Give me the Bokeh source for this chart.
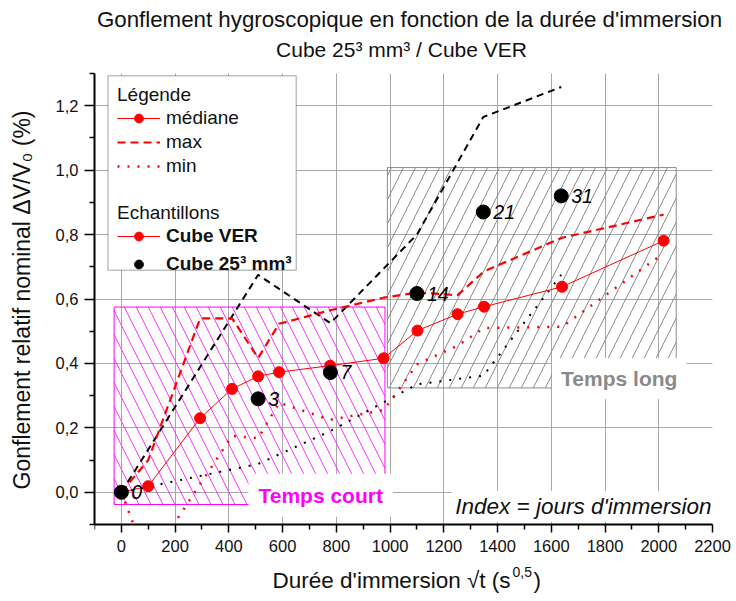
from bokeh.plotting import figure
from bokeh.models import (FixedTicker, CustomJSTickFormatter, Label, Legend,
                          LegendItem, BoxAnnotation)
from bokeh.embed import file_html
from bokeh.resources import INLINE
from bokeh.core.properties import value

# ---------------- data ----------------
# Cube VER : sqrt(t) in s^0.5
t_ver = [0, 100, 293, 412, 509, 587, 777, 976, 1102, 1251, 1350, 1640, 2018]
ver_median = [0, 0.019, 0.23, 0.321, 0.36, 0.373, 0.393, 0.416, 0.502, 0.553, 0.576, 0.638, 0.781]
ver_max = [0, 0.10, 0.54, 0.54, 0.417, 0.523, 0.565, 0.604, 0.62, 0.612, 0.686, 0.79, 0.862]
ver_min = [0, -0.22, 0.025, 0.175, 0.168, 0.278, 0.225, 0.255, 0.398, 0.455, 0.51, 0.514, 0.742]

# Cube 25^3 mm^3
t_c25 = [0, 509, 778, 1100, 1347, 1637]
c25_value = [0, 0.29, 0.372, 0.617, 0.870, 0.920]
c25_max = [0, 0.675, 0.525, 0.80, 1.165, 1.258]
c25_min = [0, 0.088, 0.19, 0.335, 0.362, 0.675]
c25_days = ["0", "3", "7", "14", "21", "31"]

# shaded regions
court_x = [-27, 981]
court_y = [-0.038, 0.575]
long_x = [990, 2065]
long_y = [0.324, 1.008]

x_ticks = [0, 200, 400, 600, 800, 1000, 1200, 1400, 1600, 1800, 2000, 2200]
x_minor = [-100, 100, 300, 500, 700, 900, 1100, 1300, 1500, 1700, 1900, 2100]
y_ticks = [0, 0.2, 0.4, 0.6, 0.8, 1.0, 1.2]
y_minor = [-0.1, 0.1, 0.3, 0.5, 0.7, 0.9, 1.1, 1.3]
X_MIN, X_MAX = -100, 2200
Y_MIN, Y_MAX = -0.1, 1.3

TITLE1 = "Gonflement hygroscopique en fonction de la durée d'immersion"
TITLE2 = "Cube 25³ mm³ / Cube VER"

FONT = "Liberation Sans"
RED = "#ff0000"

# ---------------- layout ----------------
# The drawing frame fills the canvas; the axes band occupies a fixed pixel box
# inside it, titles and the x-axis title are drawn as labels around it.
W, H = 734, 599
AX_LEFT, AX_RIGHT, AX_TOP, AX_BOTTOM = 94, 712, 73, 524   # axes band in canvas px
EDGE = 2
px_x = (AX_RIGHT - AX_LEFT) / (X_MAX - X_MIN)
px_y = (AX_BOTTOM - AX_TOP) / (Y_MAX - Y_MIN)
x_hi = X_MAX + (W - EDGE - AX_RIGHT) / px_x
y_hi = Y_MAX + (AX_TOP - EDGE) / px_y
y_lo = Y_MIN - (H - EDGE - AX_BOTTOM) / px_y


def sx(px):   # canvas pixel -> data x (for annotation placement)
    return X_MIN + (px - AX_LEFT) / px_x


def sy(py):   # canvas pixel -> data y
    return Y_MAX + (AX_TOP - py) / px_y


p = figure(width=W, height=H, x_range=(X_MIN, x_hi), y_range=(y_lo, y_hi),
           output_backend="svg", toolbar_location=None,
           min_border_left=AX_LEFT, min_border_right=EDGE,
           min_border_top=EDGE, min_border_bottom=EDGE)
p.outline_line_color = None
p.background_fill_color = "white"
p.title.visible = False
p.title.standoff = 0

# axes
for ax in (p.xaxis[0], p.yaxis[0]):
    ax.axis_line_width = 2
    ax.axis_line_color = "black"
    ax.major_tick_line_color = "black"
    ax.minor_tick_line_color = "black"
    ax.major_tick_line_width = 1.5
    ax.minor_tick_line_width = 1.5
    ax.major_tick_in = 0
    ax.minor_tick_in = 0
    ax.major_label_text_font = FONT
    ax.major_label_text_font_size = "16.5px"
    ax.major_label_text_color = "#111111"

p.xaxis.fixed_location = Y_MIN
p.xaxis.bounds = (X_MIN, X_MAX)
p.xaxis.ticker = FixedTicker(ticks=x_ticks, minor_ticks=x_minor)
p.xaxis.major_tick_out = 8
p.xaxis.minor_tick_out = 5
p.xaxis.major_label_standoff = 7

p.yaxis.bounds = (Y_MIN, Y_MAX)
p.yaxis.ticker = FixedTicker(ticks=y_ticks, minor_ticks=y_minor)
p.yaxis.formatter = CustomJSTickFormatter(code="return tick.toFixed(1).replace('.', ',');")
p.yaxis.major_tick_out = 10
p.yaxis.minor_tick_out = 5
p.yaxis.major_label_standoff = 6
p.yaxis.axis_label = "Gonflement relatif nominal ΔV/V₀ (%)"
p.yaxis.axis_label_text_font = FONT
p.yaxis.axis_label_text_font_size = "23px"
p.yaxis.axis_label_text_font_style = "normal"
p.yaxis.axis_label_text_color = "#111111"
p.yaxis.axis_label_standoff = 18

p.xgrid.ticker = FixedTicker(ticks=x_ticks[:-1])
p.ygrid.ticker = FixedTicker(ticks=y_ticks)
p.grid.grid_line_color = "#a8a8a8"
p.grid.grid_line_width = 1

# hatched regions
p.quad(left=[court_x[0]], right=[court_x[1]], bottom=[court_y[0]], top=[court_y[1]],
       fill_alpha=0, line_color="#ff00ff", line_width=1,
       hatch_pattern="left_diagonal_line", hatch_color="#ff33ff", hatch_scale=24, hatch_weight=1)
p.quad(left=[long_x[0]], right=[long_x[1]], bottom=[long_y[0]], top=[long_y[1]],
       fill_alpha=0, line_color="#8c8c8c", line_width=1,
       hatch_pattern="right_diagonal_line", hatch_color="#8c8c8c", hatch_scale=24, hatch_weight=1)

# Cube 25 envelopes (black)
p.line(t_c25, c25_max, line_color="black", line_width=2, line_dash="7 5")
p.line(t_c25, c25_min, line_color="black", line_width=2, line_dash="2 8")

# Cube VER (red)
max_line = p.line(t_ver, ver_max, line_color=RED, line_width=2.2, line_dash="8 5")
min_line = p.line(t_ver, ver_min, line_color=RED, line_width=2.5, line_dash="2 8")
med_line = p.line(t_ver, ver_median, line_color=RED, line_width=1)
med_pts = p.scatter(t_ver, ver_median, size=11, marker="circle", fill_color=RED, line_color=RED)

c25_pts = p.scatter(t_c25, c25_value, size=14, marker="circle", fill_color="black", line_color="black")
p.text(x=t_c25, y=c25_value, text=c25_days, x_offset=10, text_baseline="middle",
       text_font=value(FONT), text_font_size=value("19.5px"), text_font_style="italic",
       text_color="black")

# white margins outside the axes band (hide grid / curves beyond the axes)
for kw in (dict(top=Y_MIN), dict(bottom=Y_MAX), dict(left=X_MAX)):
    p.add_layout(BoxAnnotation(fill_color="white", fill_alpha=1, line_alpha=0,
                               level="glyph", **kw))

# titles
p.add_layout(Label(x=sx(409), y=sy(19), text=TITLE1, text_font=FONT, text_font_size="22.3px",
                   text_color="#111111", text_align="center", text_baseline="middle"))
p.add_layout(Label(x=sx(401), y=sy(49), text=TITLE2, text_font=FONT, text_font_size="21px",
                   text_color="#111111", text_align="center", text_baseline="middle"))

# annotations with white backgrounds
p.add_layout(Label(x=473, y=-0.009, text="Temps court", text_font=FONT, text_font_size="21px",
                   text_font_style="bold", text_color="#ff00ff", text_baseline="middle",
                   background_fill_color="white", padding=10))
p.add_layout(Label(x=1603, y=0.353, text="Temps long", text_font=FONT, text_font_size="21px",
                   text_font_style="bold", text_color="#8a8a8a", text_baseline="middle",
                   background_fill_color="white", padding=9))
p.add_layout(Label(x=X_MAX, y=-0.043, x_offset=2, text="Index = jours d'immersion", text_font=FONT,
                   text_font_size="22.5px", text_font_style="italic", text_color="#111111",
                   text_align="right", text_baseline="middle",
                   background_fill_color="white", padding=3))

# x axis title built from pieces (superscript)
p.add_layout(Label(x=sx(510), y=sy(580), text="Durée d'immersion √t (s", text_font=FONT,
                   text_font_size="22.5px", text_color="#111111", text_align="right",
                   text_baseline="middle"))
p.add_layout(Label(x=sx(512), y=sy(571), text="0,5", text_font=FONT,
                   text_font_size="14px", text_color="#111111", text_align="left",
                   text_baseline="middle"))
p.add_layout(Label(x=sx(533), y=sy(580), text=")", text_font=FONT,
                   text_font_size="22.5px", text_color="#111111", text_align="left",
                   text_baseline="middle"))

# legend frame
p.add_layout(BoxAnnotation(left=-50, right=651, bottom=0.689, top=1.293,
                           fill_color="white", fill_alpha=1,
                           line_color="#333333", line_width=1.5))

common = dict(border_line_alpha=0, background_fill_alpha=0, padding=8, margin=0,
              label_height=22, glyph_height=22, glyph_width=43,
              label_standoff=6, title_standoff=1,
              label_text_font=FONT, label_text_font_size="19px",
              title_text_font=FONT, title_text_font_size="19px",
              title_text_font_style="normal", label_text_color="#111111",
              title_text_color="#111111")
legA = Legend(items=[LegendItem(label="médiane", renderers=[med_line, med_pts]),
                     LegendItem(label="max", renderers=[max_line]),
                     LegendItem(label="min", renderers=[min_line])],
              title="Légende", location=(15, 339 + 73), spacing=2, **common)
legB = Legend(items=[LegendItem(label="Cube VER", renderers=[med_line, med_pts]),
                     LegendItem(label="Cube 25³ mm³", renderers=[c25_pts])],
              title="Echantillons", location=(15, 241 + 73), spacing=6,
              label_text_font_style="bold", **common)
p.add_layout(legA, "center")
p.add_layout(legB, "center")

open("out.html", "w").write(file_html(p, INLINE))
